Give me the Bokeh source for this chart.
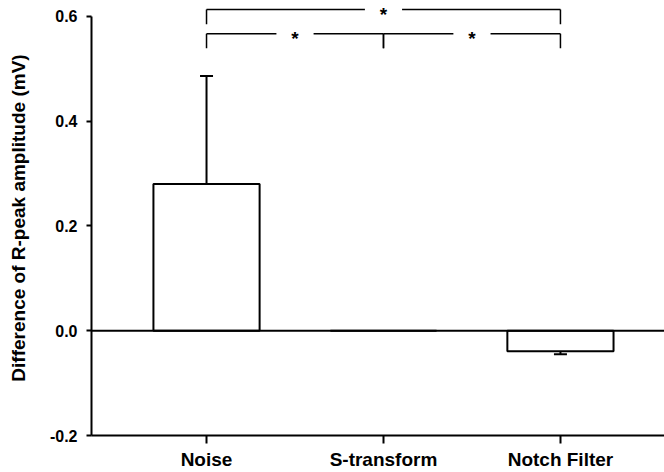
from bokeh.plotting import figure
from bokeh.models import (Range1d, FixedTicker, NumeralTickFormatter, Span,
                          Whisker, TeeHead, ColumnDataSource)
from bokeh.core.properties import value
from bokeh.embed import file_html
from bokeh.resources import INLINE

# ---- data ----
categories = ["Noise", "S-transform", "Notch Filter"]
means = [0.28, 0.0, -0.039]
errors = [0.206, 0.0, 0.006]
y_ticks = [-0.2, 0.0, 0.2, 0.4, 0.6]
# significance brackets: (left category index, right category index)
bracket_pairs = [(0, 2), (0, 1), (1, 2)]
bracket_top = [0.613, 0.567, 0.567]
bracket_bottom = [0.585, 0.539, 0.539]
bracket_labels = ["*", "*", "*"]

FONT = "Liberation Sans"

xs = [i + 1 for i in range(len(categories))]

p = figure(width=664, height=472, output_backend="svg", toolbar_location=None,
           x_range=Range1d(0.35, 3.588), y_range=Range1d(-0.2, 0.6303),
           min_border_left=91, min_border_right=0, min_border_top=0,
           min_border_bottom=0)
p.outline_line_color = None
p.background_fill_color = "white"
p.border_fill_color = "white"
p.xgrid.visible = False
p.ygrid.visible = False

# zero line
p.add_layout(Span(location=0, dimension="width", line_color="black", line_width=2))

# bars
p.vbar(x=xs, top=means, bottom=0, width=0.6, fill_color="white",
       line_color="black", line_width=2)

# error bars (one-sided, away from zero)
tips = [m + (e if m >= 0 else -e) for m, e in zip(means, errors)]
ex = [x for x, e in zip(xs, errors) if e > 0]
el = [m for m, e in zip(means, errors) if e > 0]
eu = [t for t, e in zip(tips, errors) if e > 0]
src = ColumnDataSource(dict(base=ex, lower=el, upper=eu))
p.add_layout(Whisker(source=src, base="base", lower="lower", upper="upper",
                     line_color="black", line_width=2, lower_head=None,
                     upper_head=TeeHead(size=13, line_color="black", line_width=2)))

# significance brackets
gap = 0.105
x0s, y0s, x1s, y1s = [], [], [], []
sx, sy = [], []
for (a, b), yt, yb in zip(bracket_pairs, bracket_top, bracket_bottom):
    xa, xb = xs[a], xs[b]
    mid = (xa + xb) / 2
    x0s += [xa, xb, xa, mid + gap]
    x1s += [xa, xb, mid - gap, xb]
    y0s += [yb, yb, yt, yt]
    y1s += [yt, yt, yt, yt]
    sx.append(mid)
    sy.append(yt)
p.segment(x0=x0s, y0=y0s, x1=x1s, y1=y1s, line_color="black", line_width=1.5)
p.text(x=sx, y=sy, text=bracket_labels, text_align="center", text_baseline="middle",
       text_font=value(FONT), text_font_style="bold", text_font_size="19px",
       y_offset=5, text_color="black")

# axes
for ax in (p.xaxis, p.yaxis):
    ax.axis_line_color = "black"
    ax.major_tick_line_color = "black"
    ax.major_label_text_color = "black"
    ax.axis_label_text_color = "black"
    ax.minor_tick_line_color = None
    ax.axis_line_width = 2
    ax.major_tick_line_width = 2
    ax.major_tick_in = 0
    ax.major_label_text_font = FONT
    ax.major_label_text_font_style = "bold"

p.yaxis.bounds = (-0.2, 0.6)
p.yaxis.ticker = FixedTicker(ticks=y_ticks)
p.yaxis.formatter = NumeralTickFormatter(format="0.0")
p.yaxis.axis_label = "Difference of R-peak amplitude (mV)"
p.yaxis.axis_label_text_font = FONT
p.yaxis.axis_label_text_font_style = "bold"
p.yaxis.axis_label_text_font_size = "19px"
p.yaxis.axis_label_standoff = 18
p.yaxis.major_label_text_font_size = "16px"
p.yaxis.major_label_standoff = 9
p.yaxis.major_tick_out = 5

p.xaxis.ticker = FixedTicker(ticks=xs)
p.xaxis.major_label_overrides = {x: c for x, c in zip(xs, categories)}
p.xaxis.major_label_text_font_size = "19px"
p.xaxis.major_label_standoff = 5
p.xaxis.major_tick_out = 8

open("out.html", "w").write(file_html(p, INLINE))
